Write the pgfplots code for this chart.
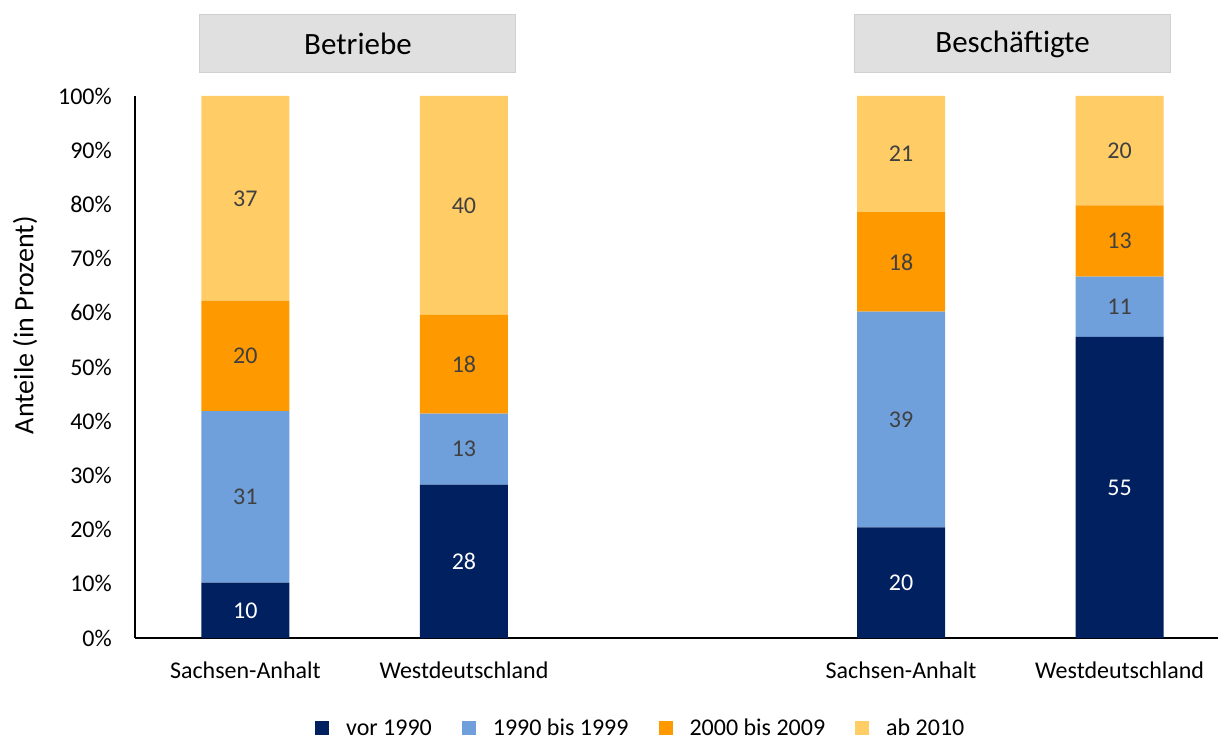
\documentclass[border=0pt]{standalone}
\usepackage{fontspec}
\setmainfont{Carlito}
\usepackage{pgfplots}
\usepackage{pgfplotstable}
\pgfplotsset{compat=1.18}
\definecolor{cA}{HTML}{002060}
\definecolor{cB}{HTML}{6FA0DC}
\definecolor{cC}{HTML}{FF9900}
\definecolor{cD}{HTML}{FFCC66}
\definecolor{lab}{HTML}{404040}
\definecolor{boxfill}{HTML}{E0E0E0}
\definecolor{boxdraw}{HTML}{D0D0D0}
% x: 0/1 = Betriebe, 3/4 = Beschaeftigte ; pct = share of the bar, lab = printed value
\pgfplotstableread{
x pct lab
0 10.204 10
1 28.283 28
3 20.408 20
4 55.556 55
}\vor
\pgfplotstableread{
x pct lab
0 31.633 31
1 13.131 13
3 39.796 39
4 11.111 11
}\neunzig
\pgfplotstableread{
x pct lab
0 20.408 20
1 18.182 18
3 18.367 18
4 13.131 13
}\nulln
\pgfplotstableread{
x pct lab
0 37.755 37
1 40.404 40
3 21.429 21
4 20.202 20
}\zehn
\begin{document}
\begin{tikzpicture}
\useasboundingbox (0,0) rectangle (1218pt,737pt);
\begin{axis}[
  at={(135pt,99pt)}, anchor=south west,
  scale only axis, width=1083pt, height=542pt,
  xmin=-0.505, xmax=4.45, ymin=0, ymax=100,
  ybar stacked, bar width=88pt,
  axis x line*=bottom, axis y line*=left,
  axis line style={-, black, line width=1.5pt},
  major tick length=0pt,
  xtick={0,1,3,4},
  xticklabels={Sachsen-Anhalt,Westdeutschland,Sachsen-Anhalt,Westdeutschland},
  ytick={0,10,...,100},
  yticklabel={\pgfmathprintnumber{\tick}\%},
  /pgf/number format/assume math mode=true,
  tick label style={font=\fontsize{24}{28}\selectfont, text=black},
  yticklabel style={inner sep=0pt, xshift=-23pt},
  xticklabel style={yshift=-20pt},
  ylabel={Anteile (in Prozent)},
  ylabel style={at={(axis description cs:-0.1016,0.577)}, anchor=center, font=\fontsize{28}{32}\selectfont},
  clip=false,
  point meta=explicit,
  nodes near coords={\pgfmathprintnumber[fixed,precision=0]{\pgfplotspointmeta}},
  every node near coord/.append style={anchor=center, font=\fontsize{24}{28}\selectfont},
  legend columns=4,
  legend style={draw=none, fill=none, at={(axis description cs:0.467,-0.166)}, anchor=center,
     font=\fontsize{24}{28}\selectfont, column sep=0pt,
     /tikz/every odd column/.style={column sep=15pt},
     /tikz/every even column/.style={column sep=28pt}},
  legend image code/.code={\fill[#1,draw=none] (0pt,-7pt) rectangle (14pt,7pt);},
]
\addplot[fill=cA, draw=none, every node near coord/.append style={text=white}] table[x=x, y=pct, meta=lab] {\vor};
\addplot[fill=cB, draw=none, every node near coord/.append style={text=lab}] table[x=x, y=pct, meta=lab] {\neunzig};
\addplot[fill=cC, draw=none, every node near coord/.append style={text=lab}] table[x=x, y=pct, meta=lab] {\nulln};
\addplot[fill=cD, draw=none, every node near coord/.append style={text=lab}] table[x=x, y=pct, meta=lab] {\zehn};
\legend{vor 1990, 1990 bis 1999, 2000 bis 2009, ab 2010}
\node[fill=boxfill, draw=boxdraw, line width=1pt, minimum width=316pt, minimum height=58pt,
  font=\fontsize{31}{36}\selectfont] at (axis cs:0.515,109.6) {Betriebe};
\node[fill=boxfill, draw=boxdraw, line width=1pt, minimum width=316pt, minimum height=58pt,
  font=\fontsize{31}{36}\selectfont] at (axis cs:3.51,109.6) {Beschäftigte};
\end{axis}
\end{tikzpicture}
\end{document}
